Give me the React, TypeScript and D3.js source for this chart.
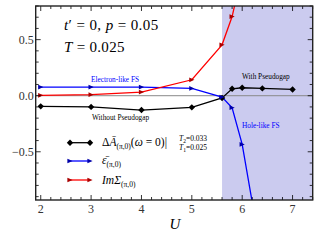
import React from "react";
import * as d3 from "d3";

const uBlack = [2, 3, 4, 5, 5.6, 5.8, 6, 6.4, 7];
const vBlack = [-0.095, -0.1, -0.128, -0.104, -0.02, 0.062, 0.071, 0.065, 0.056];
const uBlue = [2, 3, 4, 5, 5.6, 5.8, 6, 6.4];
const vBlue = [0.077, 0.077, 0.077, 0.065, -0.012, -0.107, -0.434, -1.47];
const uRed = [2, 3, 4, 5, 5.6, 5.8, 6];
const vRed = [0.003, 0.009, 0.032, 0.142, 0.454, 0.706, 1.1];
const xTicks = [2, 3, 4, 5, 6, 7];
const yTicks = [-0.5, 0, 0.5];
const shadeStart = 5.6;

const W = 320, H = 240;
const L = 35.7, R = 312.7, T = 6, B = 200;
const FONT = "'Liberation Serif', 'DejaVu Serif', serif";

export default function App() {
  const x = d3.scaleLinear().domain([1.9, 7.4]).range([L, R]);
  const y = d3.scaleLinear().domain([-0.93, 0.8]).range([B, T]);
  const line = d3.line<[number, number]>().x(d => x(d[0])).y(d => y(d[1]));
  const pts = (u: number[], v: number[]) => u.map((a, i) => [a, v[i]] as [number, number]);
  const black = pts(uBlack, vBlack), blue = pts(uBlue, vBlue), red = pts(uRed, vRed);
  const diamond = (cx: number, cy: number, s = 3.2) =>
    `M${cx},${cy - s}L${cx + s},${cy}L${cx},${cy + s}L${cx - s},${cy}Z`;
  const tri = (cx: number, cy: number, s = 2.6) =>
    `M${cx + s},${cy}L${cx - s},${cy - s * 0.9}L${cx - s},${cy + s * 0.9}Z`;
  const xm = d3.range(0, 28).map(i => +(2 + i * 0.2).toFixed(2)).filter(v => v <= 7.4);
  const yMinor = d3.range(-9, 9).map(i => +(i * 0.1).toFixed(2)).filter(v => v >= -0.93 && v <= 0.8);
  const ym = (v: number) => Math.abs(v * 2 - Math.round(v * 2)) < 1e-6;
  const xMaj = (v: number) => Math.abs(v - Math.round(v)) < 1e-6;
  return (
    <svg width={W} height={H} style={{ position: "absolute", left: 0, top: 0, background: "#fff" }}>
      <defs>
        <clipPath id="clip"><rect x={L} y={T} width={R - L} height={B - T} /></clipPath>
      </defs>
      <rect x={x(shadeStart)} y={T} width={R - x(shadeStart)} height={B - T} fill="#cbcbef" />
      <line x1={L} x2={R} y1={y(0)} y2={y(0)} stroke="#888" strokeWidth={1} />
      <g clipPath="url(#clip)">
        <path d={line(black) || ""} fill="none" stroke="#000" strokeWidth={1.3} />
        <path d={line(blue) || ""} fill="none" stroke="#0000ff" strokeWidth={1.3} />
        <path d={line(red) || ""} fill="none" stroke="#ff0000" strokeWidth={1.3} />
        {black.map((p, i) => <path key={"b" + i} d={diamond(x(p[0]), y(p[1]))} fill="#000" />)}
        {blue.map((p, i) => <path key={"u" + i} d={tri(x(p[0]), y(p[1]))} fill="#0000aa" />)}
        {red.map((p, i) => <path key={"r" + i} d={tri(x(p[0]), y(p[1]))} fill="#aa0000" />)}
      </g>
      {xm.map((v, i) => {
        const len = xMaj(v) ? 5 : 3;
        return (
          <g key={"xt" + i} stroke="#000" strokeWidth={0.8}>
            <line x1={x(v)} x2={x(v)} y1={B} y2={B - len} />
            <line x1={x(v)} x2={x(v)} y1={T} y2={T + len} />
          </g>
        );
      })}
      {yMinor.map((v, i) => {
        const len = ym(v) ? 5 : 3;
        return (
          <g key={"yt" + i} stroke="#000" strokeWidth={0.8}>
            <line x1={L} x2={L + len} y1={y(v)} y2={y(v)} />
            <line x1={R} x2={R - len} y1={y(v)} y2={y(v)} />
          </g>
        );
      })}
      <rect x={L} y={T} width={R - L} height={B - T} fill="none" stroke="#222" strokeWidth={1.4} />
      {xTicks.map(v => (
        <text key={"xl" + v} x={x(v)} y={B + 13} textAnchor="middle" fontFamily={FONT} fontSize={12} fill="#333">{v}</text>
      ))}
      {yTicks.map(v => (
        <text key={"yl" + v} x={L - 2} y={y(v) + 4} textAnchor="end" fontFamily={FONT} fontSize={12} fill="#333">
          {v === 0 ? "0.0" : v < 0 ? "\u22120.5" : "0.5"}
        </text>
      ))}
      <text x={175} y={229} textAnchor="middle" fontFamily={FONT} fontStyle="italic" fontSize={15}>U</text>
      <text x={64} y={30} fontFamily={FONT} fontSize={15} letterSpacing={0.4}>
        <tspan fontStyle="italic">t</tspan>{"\u2032 = 0, "}<tspan fontStyle="italic">p</tspan>{" = 0.05"}
      </text>
      <text x={64} y={52} fontFamily={FONT} fontSize={15} letterSpacing={0.3}>
        <tspan fontStyle="italic">T</tspan>{" = 0.025"}
      </text>
      <text x={91} y={82} fontFamily={FONT} fontSize={7.3} fill="#0000ff">Electron-like FS</text>
      <text x={242} y={79} fontFamily={FONT} fontSize={7.3} fill="#000">With Pseudogap</text>
      <text x={92} y={120} fontFamily={FONT} fontSize={7.3} fill="#000">Without Pseudogap</text>
      <text x={242} y={128} fontFamily={FONT} fontSize={7.3} fill="#0000ff">Hole-like FS</text>
      <g>
        <line x1={70} x2={90} y1={142.7} y2={142.7} stroke="#000" strokeWidth={1.3} />
        <path d={diamond(70, 142.7)} fill="#000" />
        <path d={diamond(90, 142.7)} fill="#000" />
        <line x1={70} x2={90} y1={161} y2={161} stroke="#0000ff" strokeWidth={1.3} />
        <path d={tri(70, 161)} fill="#0000aa" />
        <path d={tri(90, 161)} fill="#0000aa" />
        <line x1={70} x2={90} y1={180} y2={180} stroke="#ff0000" strokeWidth={1.3} />
        <path d={tri(70, 180)} fill="#aa0000" />
        <path d={tri(90, 180)} fill="#aa0000" />
        <text x={102} y={146} fontFamily={FONT} fontSize={11.5}>
          {"\u0394"}<tspan fontStyle="italic">{"\u0100"}</tspan>
          <tspan fontSize={7.5} dy={3}>{"(\u03c0,0)"}</tspan>
          <tspan dy={-3}>{"("}</tspan><tspan fontStyle="italic">{"\u03c9"}</tspan>{" = 0)|"}
        </text>
        <text x={179} y={141} fontFamily={FONT} fontSize={7.5}>
          <tspan fontStyle="italic">T</tspan><tspan fontSize={5.5} dy={1.5}>2</tspan><tspan dy={-1.5}>=0.033</tspan>
        </text>
        <text x={179} y={150} fontFamily={FONT} fontSize={7.5}>
          <tspan fontStyle="italic">T</tspan><tspan fontSize={5.5} dy={1.5}>1</tspan><tspan dy={-1.5}>=0.025</tspan>
        </text>
        <text x={102} y={164} fontFamily={FONT} fontSize={11.5}>
          <tspan fontStyle="italic">{"\u03b5\u0304"}</tspan>
          <tspan fontSize={7.5} dy={3}>{"(\u03c0,0)"}</tspan>
        </text>
        <text x={102} y={184} fontFamily={FONT} fontSize={11.5}>
          <tspan fontStyle="italic">{"Im\u03a3"}</tspan>
          <tspan fontSize={7.5} dy={3}>{"(\u03c0,0)"}</tspan>
        </text>
      </g>
    </svg>
  );
}
